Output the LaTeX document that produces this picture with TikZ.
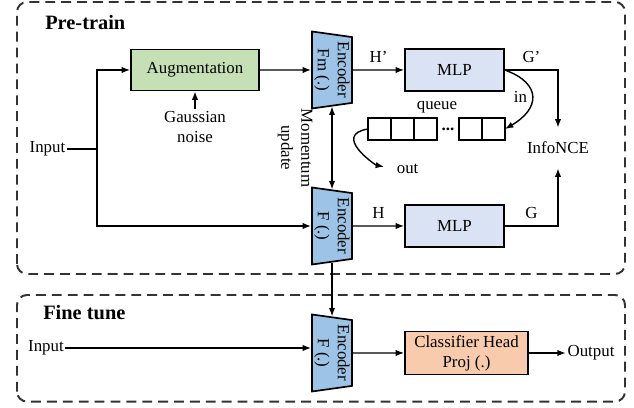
\documentclass[tikz,border=0pt]{standalone}
\usepackage{fontspec}
\setmainfont{Liberation Serif}
\usepackage{tikz}
\usetikzlibrary{arrows.meta, positioning, calc, shapes.geometric}

\definecolor{encfill}{HTML}{9DC3E6}
\definecolor{mlpfill}{HTML}{DAE3F3}
\definecolor{augfill}{HTML}{C5E0B4}
\definecolor{headfill}{HTML}{F8CBAD}
\newcommand{\rmsize}{\fontsize{12pt}{14.2pt}\selectfont}

\begin{document}
\begin{tikzpicture}[
    % Node styles
    aug/.style={
        rectangle, draw=black, line width=1.2pt,
        minimum width=3.2cm, minimum height=1.025cm,
        font=\rmsize, fill=augfill,
    },
    mlp/.style={
        rectangle, draw=black, line width=1.2pt,
        minimum width=2.475cm, minimum height=1.05cm,
        font=\rmsize, fill=mlpfill,
    },
    head/.style={
        rectangle, draw=black, line width=1.2pt,
        minimum width=3.075cm, minimum height=1.075cm,
        font=\rmsize, fill=headfill, align=center, inner sep=1pt,
    },
    enc/.style={
        trapezium, trapezium left angle=81, trapezium right angle=81,
        trapezium stretches body, rotate=-90,
        minimum width=1.925cm, minimum height=1cm, inner sep=0pt,
        draw=black, line width=1.2pt, fill=encfill,
        font=\rmsize, align=center,
    },
    cell/.style={
        rectangle, draw=black, line width=1pt,
        minimum width=0.575cm, minimum height=0.55cm,
        inner sep=0pt, outer sep=0pt,
    },
    txt/.style={
        font=\rmsize, inner sep=1pt, align=center,
    },
    title/.style={
        font=\fontsize{14.5pt}{17pt}\selectfont\bfseries,
        inner sep=0pt, anchor=base west,
    },
    lbl/.style={
        font=\rmsize, inner sep=1pt, midway, above=4pt,
    },
    frame/.style={
        draw=black!80, line width=1.4pt,
        dash pattern=on 7pt off 4.3pt, rounded corners=0.25cm,
    },
    line/.style={
        draw=black, line width=1pt, -{Latex[length=6pt, width=4.5pt]},
    },
    both/.style={
        line, {Latex[length=6pt, width=4.5pt]}-{Latex[length=6pt, width=4.5pt]},
    },
]

\useasboundingbox (0,0) rectangle (15.85,10.2);

% === Frames ===
\draw[frame] (0.425,3.35) rectangle (15.625,10.15);
\draw[frame] (0.425,0.16) rectangle (15.625,2.825);
\node[title] (pretrain) at (1.125,9.45) {Pre-train};
\node[title] (finetune) at (1.075,2.2) {Fine tune};

% === Pre-train: momentum branch ===
\node[txt] (in1) at (1.1875,6.475) {Input};
\coordinate (split) at (2.425,6.475);
\node[aug] (aug) at (4.875,8.45) {Augmentation};
\node[txt, below=0.45cm of aug] (noise) {Gaussian\\noise};
\node[enc] (encm) at (8.3,8.45) {Encoder\\Fm (.)};
\node[mlp] (mlp1) at (11.3625,8.45) {MLP};

% === Pre-train: query branch ===
\node[enc] (encf) at (8.3,4.55) {Encoder\\F (.)};
\node[mlp] (mlp2) at (11.3625,4.55) {MLP};
\node[txt, inner ysep=10pt] (nce) at (13.95,6.5) {InfoNCE};

% === Queue ===
\node[cell] (q1) at (9.4875,6.975) {};
\node[cell, right=0pt of q1] (q2) {};
\node[cell, right=0pt of q2] (q3) {};
\node[cell] (q4) at (11.7625,6.975) {};
\node[cell, right=0pt of q4] (q5) {};
\node[txt, font=\rmsize\bfseries] (dots) at ($(q3.east)!0.5!(q4.west)$) {...};
\node[txt, above=2pt of q3.north east] (qlabel) {queue};
\node[txt] (outl) at (10.19,5.975) {out};

% === Fine tune ===
\node[txt] (in2) at (1.15,1.5) {Input};
\node[enc] (enct) at (8.3,1.375) {Encoder\\F (.)};
\node[head] (head) at (11.6625,1.375) {Classifier Head\\Proj (.)};
\node[txt] (output) at (14.775,1.375) {Output};

% === Edges: pre-train ===
\draw[line, -] (in1.east) -- (split);
\draw[line] (split) |- (aug.west);
\draw[line] (split) |- (encf.south);
\draw[line] (noise.north) -- (aug.south);
\draw[line] (aug.east) -- (encm.south);
\draw[line] (encm.north) -- (mlp1.west) node[lbl] {H'};
\draw[line] (encf.north) -- (mlp2.west) node[lbl] {H};
\draw[line] (mlp1.east) -| (nce.north) node[lbl, pos=0.25] {G'};
\draw[line] (mlp2.east) -| (nce.south) node[lbl, pos=0.25] {G};
\draw[both] (encm.east) -- (encf.west);
\node[txt, rotate=-90] (mom) at ($(encm.east)!0.5!(encf.west)+(-0.925,0)$) {Momentum\\update};

% === Edges: queue ===
\draw[line] (mlp1.east) .. controls +(-20:1) and +(30:1) .. (q5.east)
    node[txt, midway, left=2pt] {in};
\draw[line, shorten >=8pt] (q1.west) .. controls +(-0.9,-0.15) and +(-0.5,0.1) .. (outl.west);

% === Edges: fine tune ===
\draw[line] (encf.east) -- (enct.west);
\draw[line] (in2.east) -- (in2.east -| enct.south);
\draw[line] (enct.north) -- (head.west);
\draw[line] (head.east) -- (output.west);

\end{tikzpicture}
\end{document}
